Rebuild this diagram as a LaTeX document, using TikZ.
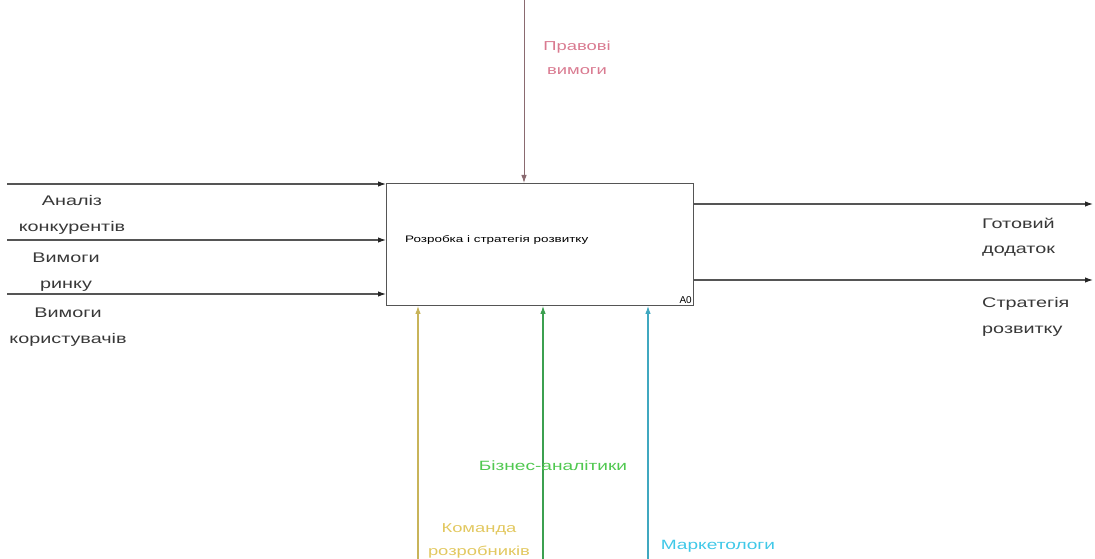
\documentclass[tikz,border=0pt]{standalone}
\usepackage{fontspec}
\setmainfont{Liberation Sans}
\newfontfamily\widefont[FakeStretch=1.42]{Liberation Sans}
\usetikzlibrary{arrows.meta}
\definecolor{linegray}{HTML}{555555}
\definecolor{ctrlline}{HTML}{8A6A70}
\definecolor{ctrltext}{HTML}{D97A90}
\definecolor{yelline}{HTML}{C8B45A}
\definecolor{yeltext}{HTML}{E2C860}
\definecolor{grnline}{HTML}{3CA050}
\definecolor{grntext}{HTML}{50C850}
\definecolor{cyaline}{HTML}{40A8C0}
\definecolor{cyatext}{HTML}{40C8E8}
\begin{document}
\begin{tikzpicture}[x=1bp,y=-1bp,
  arr/.style={line width=1.1bp,-{Latex[length=8bp,width=5.5bp]}},
  darr/.style={line width=1.1bp,-{Latex[length=8bp,width=5.5bp,color=black!85]}},
  lbl/.style={font=\widefont\fontsize{14}{25.5}\selectfont,align=center,inner sep=0pt,text=black!78},
  clbl/.style={font=\widefont\fontsize{13}{23.5}\selectfont,align=center,inner sep=0pt},
  funcbox/.style={draw=linegray,line width=0.9bp,minimum width=307bp,minimum height=122bp,inner sep=0pt,anchor=north west}]
\useasboundingbox (0,0) rectangle (1095,559);
% function box
\node[funcbox] (box) at (386,183) {};
\node[font=\widefont\fontsize{9.5}{11}\selectfont,anchor=west,inner sep=0pt] (boxlbl) at (405,240) {Розробка і стратегія розвитку};
\node[font=\fontsize{10}{12}\selectfont,anchor=south east,inner sep=2bp] (a0) at (box.south east) {A0};
% inputs
\coordinate (in1) at (7,184);
\coordinate (in2) at (7,240);
\coordinate (in3) at (7,294);
\draw[darr,linegray] (in1) -- (box.north west |- in1);
\draw[darr,linegray] (in2) -- (box.west |- in2);
\draw[darr,linegray] (in3) -- (box.west |- in3);
\node[lbl] (l1) at (72,215) {Аналіз\\конкурентів};
\node[lbl] (l2) at (66,272) {Вимоги\\ринку};
\node[lbl] (l3) at (68,327) {Вимоги\\користувачів};
% outputs
\coordinate (out1) at (1093,204);
\coordinate (out2) at (1093,280);
\draw[darr,linegray] (box.east |- out1) -- (out1);
\draw[darr,linegray] (box.east |- out2) -- (out2);
\node[lbl,align=left,anchor=west] (o1) at (982,237) {Готовий\\додаток};
\node[lbl,align=left,anchor=west] (o2) at (982,317) {Стратегія\\розвитку};
% control
\coordinate (ctop) at (524,0);
\draw[arr,ctrlline,line width=0.9bp] (ctop) -- (box.north -| ctop);
\node[clbl,text=ctrltext] (c1) at (577,58) {Правові\\вимоги};
% mechanisms
\coordinate (m1) at (418,559);
\coordinate (m2) at (543,559);
\coordinate (m3) at (648,559);
\draw[arr,yelline] (m1) -- (box.south -| m1);
\draw[arr,grnline] (m2) -- (box.south -| m2);
\draw[arr,cyaline] (m3) -- (box.south -| m3);
\node[clbl,text=grntext,font=\widefont\fontsize{13.5}{24}\selectfont] (k2) at (553,466) {Бізнес-аналітики};
\node[clbl,text=yeltext] (k1) at (479,541) {Команда\\розробників};
\node[clbl,text=cyatext,font=\widefont\fontsize{13.5}{24}\selectfont] (k3) at (718,546) {Маркетологи};
\end{tikzpicture}
\end{document}
